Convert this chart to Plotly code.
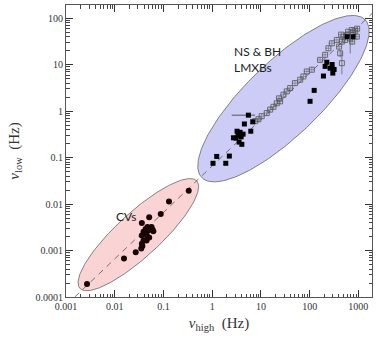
import numpy as np
import plotly.graph_objects as go

# CVs (filled circles)
cv_high = [0.0027, 0.0155, 0.027, 0.035, 0.036, 0.039, 0.045, 0.036, 0.047, 0.042, 0.06,
           0.047, 0.049, 0.039, 0.043, 0.057, 0.062, 0.051, 0.036, 0.051, 0.088, 0.13, 0.33,
           0.037, 0.045]
cv_low = [0.00019, 0.00067, 0.00092, 0.0011, 0.0014, 0.00164, 0.00164, 0.0021, 0.0019, 0.0025, 0.0028,
          0.0032, 0.0027, 0.00255, 0.0029, 0.0032, 0.0026, 0.0019, 0.0039, 0.0052, 0.0061, 0.0114, 0.0193,
          0.00125, 0.0022]

# NS & BH LMXBs, filled squares
ns_high = [1.04, 1.9, 1.24, 2.25, 2.73, 3.24, 3.74, 4.3, 3.4, 3.93, 3.57, 4.06, 3.08, 6.2, 4.58, 6.8,
           5.53, 102, 124, 192, 299, 225, 208, 263, 290, 318, 590, 780]
ns_low = [0.0755, 0.0755, 0.106, 0.108, 0.267, 0.37, 0.35, 0.32, 0.30, 0.28, 0.216, 0.193, 0.263, 0.37,
          0.53, 0.59, 0.82, 1.63, 2.8, 5.7, 6.6, 11.3, 9.2, 8.4, 10.1, 7.9, 40, 40]
ns_err_plus = [0] * 16 + [2.07] + [0] * 11
ns_err_minus = [0] * 16 + [3.01] + [0] * 11

# open squares (with small error bars)
qpo_high = [7.6, 8.9, 10.4, 13.2, 15.5, 18.1, 21.2, 23.6, 24.8, 29, 34, 39.8, 50, 64, 74.6, 87.7, 111,
            164, 208, 243, 286, 362, 459, 536, 581, 735, 782, 859, 617, 494, 931, 444, 746, 403, 944]
qpo_low = [0.61, 0.67, 0.78, 0.91, 1.08, 1.24, 1.48, 1.89, 1.63, 2.26, 2.67, 3.14, 4.02, 4.75, 5.59,
           7.15, 7.8, 12.7, 16.3, 22.6, 28.9, 34.1, 31.4, 34, 43.6, 55.8, 49, 54, 51.4, 40.2, 40.2, 44.4,
           31.4, 24.5, 59.6]

# open squares with long vertical error bars
qpo2_high = [423, 459, 680]
qpo2_low = [17.6, 10.8, 36.9]
qpo2_err_plus = [3.0, 8.4, 4.0]
qpo2_err_minus = [3.0, 4.6, 19.5]


def ellipse(cx, cy, ax_, ay_, bx, by, n=240):
    t = np.linspace(0, 2 * np.pi, n)
    lx = cx + ax_ * np.cos(t) + bx * np.sin(t)
    ly = cy + ay_ * np.cos(t) + by * np.sin(t)
    return 10 ** lx, 10 ** ly


fig = go.Figure()

ex, ey = ellipse(-1.515, -2.658, 1.199, 1.157, -0.307, 0.345)
fig.add_trace(go.Scatter(x=ex, y=ey, fill="toself", fillcolor="rgb(250,212,212)",
                         line=dict(color="#666", width=0.8), mode="lines", hoverinfo="skip"))
ex, ey = ellipse(1.463, 0.269, 1.677, 1.699, -0.530, 0.568)
fig.add_trace(go.Scatter(x=ex, y=ey, fill="toself", fillcolor="rgb(204,204,246)",
                         line=dict(color="#666", width=0.8), mode="lines", hoverinfo="skip"))

# dashed line nu_low ~ 0.066 nu_high
lx = np.array([10 ** -2.82, 10 ** 3.3])
fig.add_trace(go.Scatter(x=lx, y=lx * 10 ** -1.18, mode="lines",
                         line=dict(color="#555", width=0.8, dash="6px,5px")))

fig.add_trace(go.Scatter(x=cv_high, y=cv_low, mode="markers",
                         marker=dict(symbol="circle", size=6, color="#1a0505")))

fig.add_trace(go.Scatter(x=qpo_high, y=qpo_low, mode="markers",
                         marker=dict(symbol="square-open", size=5, color="#555", line=dict(width=0.8)),
                         error_x=dict(type="percent", value=14, width=0, thickness=0.6, color="#666"),
                         error_y=dict(type="percent", value=14, width=0, thickness=0.6, color="#666")))
fig.add_trace(go.Scatter(x=qpo2_high, y=qpo2_low, mode="markers",
                         marker=dict(symbol="square-open", size=5, color="#555", line=dict(width=0.8)),
                         error_y=dict(type="data", array=qpo2_err_plus, arrayminus=qpo2_err_minus,
                                      width=0, thickness=0.7, color="#555")))

fig.add_trace(go.Scatter(x=ns_high, y=ns_low, mode="markers",
                         marker=dict(symbol="square", size=5, color="#000"),
                         error_x=dict(type="data", array=ns_err_plus, arrayminus=ns_err_minus,
                                      width=0, thickness=0.8, color="#333")))

fig.add_annotation(x=np.log10(2.5), y=np.log10(13), text="NS & BH<br>LMXBs", showarrow=False,
                   xanchor="left", yanchor="middle", align="left",
                   font=dict(family="Lato", size=12, color="#222"))
fig.add_annotation(x=np.log10(0.0095), y=np.log10(0.0053), text="CVs", showarrow=False,
                   xanchor="left", yanchor="middle",
                   font=dict(family="Lato", size=12, color="#222"))

axis_common = dict(type="log", dtick=1, tickformat="~g", ticks="inside", ticklen=7,
                   tickcolor="#333", tickwidth=1.3, mirror="allticks", showline=True,
                   linecolor="#555", linewidth=1, showgrid=False, zeroline=False,
                   minor=dict(ticks="inside", ticklen=3.5, dtick="D1", tickcolor="#444",
                              tickwidth=1.1, showgrid=False),
                   tickfont=dict(family="Liberation Serif", size=10, color="#333"))
font_title = dict(family="Liberation Serif", size=15, color="#333")

fig.update_layout(
    width=377, height=339,
    margin=dict(l=66, r=5, t=5, b=42),
    paper_bgcolor="white", plot_bgcolor="white",
    showlegend=False,
    xaxis=dict(range=[-3, 3.28], title=dict(text="<i>ν</i><sub>high</sub>  (Hz)", standoff=6,
                                             font=font_title), **axis_common),
    yaxis=dict(range=[-4, 2.285], title=dict(text="<i>ν</i><sub>low</sub>  (Hz)", standoff=12,
                                              font=font_title), **axis_common),
)

fig.write_html("out.html", config={"displayModeBar": False},
               post_script="document.body.style.margin='0px';")
